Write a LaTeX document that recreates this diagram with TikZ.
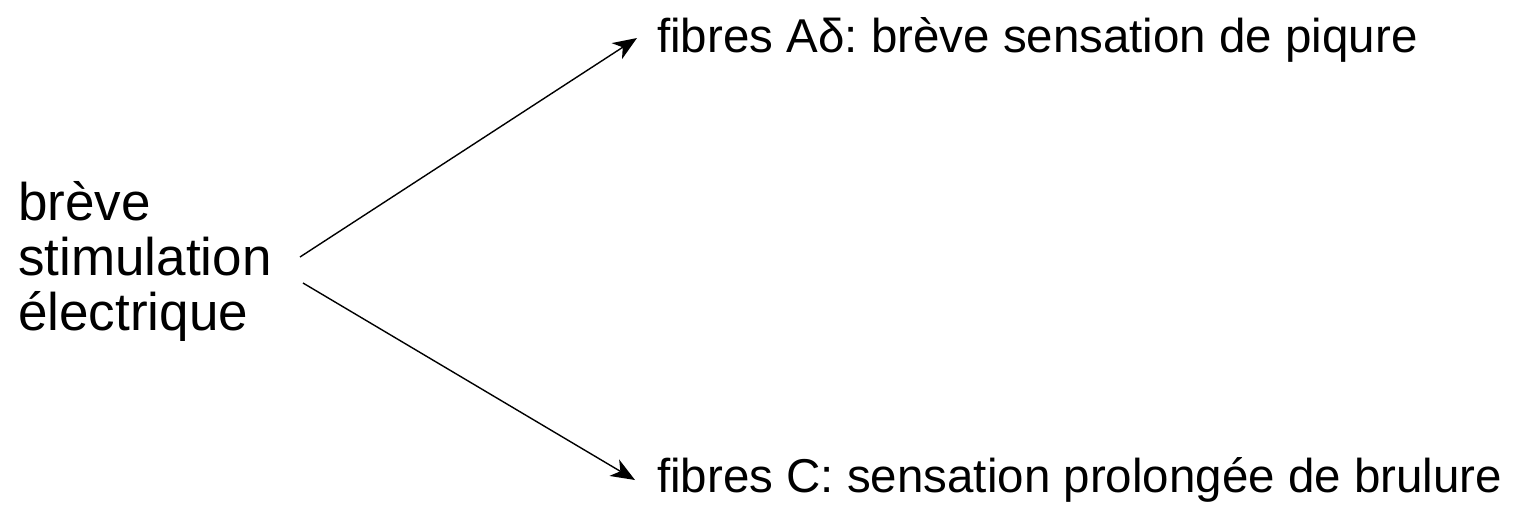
\documentclass[tikz,border=0pt]{standalone}
\usepackage{fontspec}
\setmainfont{Liberation Sans}
\usetikzlibrary{arrows.meta}
\frenchspacing
\begin{document}
\begin{tikzpicture}[x=1pt,y=-1pt,
  lbl/.style={inner sep=0pt, font=\fontsize{47.5}{56}\selectfont\frenchspacing},
  big/.style={inner sep=0pt, font=\fontsize{53}{55}\selectfont},
  conn/.style={line width=1.4pt, -{Stealth[length=24pt,width=19pt,inset=7pt]}}]
\useasboundingbox (0,0) rectangle (1519,522);
\node[big, anchor=west, align=left] (src) at (18,261) {brève\\stimulation\\électrique};
\node[lbl, anchor=base west] (ad) at (657,52) {fibres Aδ: brève sensation de piqure};
\node[lbl, anchor=base west] (c) at (657,492) {fibres C: sensation prolongée de brulure};
\coordinate (s1) at (300,257);
\coordinate (s2) at (303,283);
\coordinate (e1) at (637,38);
\coordinate (e2) at (635,480);
\draw[conn] (s1) -- (e1);
\draw[conn] (s2) -- (e2);
\end{tikzpicture}
\end{document}
